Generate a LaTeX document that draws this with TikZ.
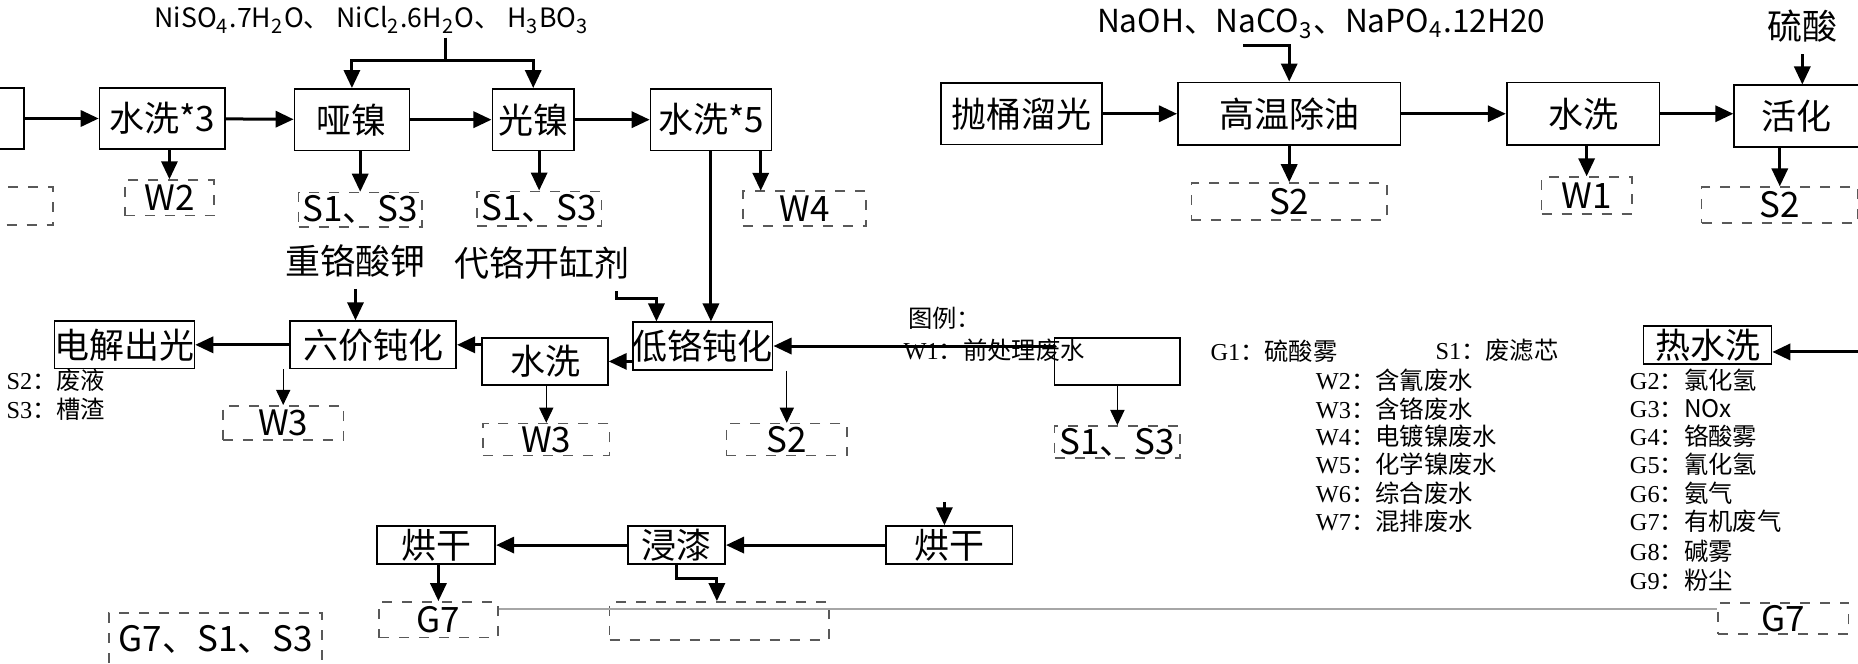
\documentclass[tikz,border=0pt]{standalone}
\usepackage{fontspec}
\setmainfont{Noto Sans CJK SC}
\newfontfamily\lgfont{Liberation Serif}
\usetikzlibrary{positioning, arrows.meta, calc}

\newcommand{\lgi}[2]{{\lgfont #1}：#2}

\begin{document}
\begin{tikzpicture}[
  x=0.0125cm, y=-0.0125cm,
  font=\fontsize{10.5}{12}\selectfont,
  sz/.style 2 args={minimum width=#1*0.0125cm, minimum height=#2*0.0125cm},
  proc/.style={rectangle, draw, line width=0.5pt, inner sep=0pt, align=center},
  outb/.style={rectangle, draw=gray!70!black, dashed, line width=0.5pt, inner sep=0pt},
  arr/.style={-{Triangle[length=1.9mm, width=1.7mm]}, line width=0.9pt},
  thinarr/.style={-{Triangle[length=1.6mm, width=1.5mm]}, line width=0.3pt},
  lg/.style={anchor=west, inner sep=0pt, font=\fontsize{7.3}{9}\selectfont},
  chem/.style={inner sep=1pt, font=\fontsize{9.5}{11}\selectfont}
]
  \useasboundingbox (0,0) rectangle (1568,560);
  \clip (0,0) rectangle (1568,560);

  % nickel line
  \node[chem, font=\fontsize{8}{10}\selectfont] (ni) at (314,17) {NiSO\textsubscript{4}.7H\textsubscript{2}O、 NiCl\textsubscript{2}.6H\textsubscript{2}O、 H\textsubscript{3}BO\textsubscript{3}};
  \node[proc, sz={100}{52}] (pre) at (-30,100) {};
  \node[proc, sz={106}{52}] (sx3) at (137,100) {水洗*3};
  \node[proc, sz={97}{52}] (yan) at (297,101) {哑镍};
  \node[proc, sz={69}{52}] (gn) at (450,101) {光镍};
  \node[proc, sz={102}{52}] (sx5) at (600,101) {水洗*5};
  \draw[arr] (pre) -- (sx3);
  \draw[arr] (sx3) -- (yan);
  \draw[arr] (yan) -- (gn);
  \draw[arr] (gn) -- (sx5);
  \coordinate (nisp) at (376,51);
  \draw[line width=0.9pt] (ni.south -| nisp) -- (nisp);
  \draw[arr] (nisp) -| (yan.north);
  \draw[arr] (nisp) -| (gn.north);

  \node[outb, sz={90}{32}] (outl) at (0,174) {};
  \node[outb, sz={75}{30}] (w2) at (143,167) {W2};
  \node[outb, sz={104}{29}] (s13a) at (304,177) {S1、S3};
  \node[outb, sz={105}{29}] (s13b) at (455,176) {S1、S3};
  \node[outb, sz={104}{30}] (w4) at (679,176) {W4};
  \coordinate (w4top) at (642,161);
  \draw[arr] (sx3.south -| w2.north) -- (w2.north);
  \draw[arr] (yan.south -| s13a.north) -- (s13a.north);
  \draw[arr] (gn.south -| s13b.north) -- (s13b.north);
  \draw[arr] (sx5.south -| w4top) -- (w4top);

  % pre-treatment line
  \node[chem] (na) at (1115,20) {NaOH、NaCO\textsubscript{3}、NaPO\textsubscript{4}.12H20};
  \node[proc, sz={136}{52}] (ptl) at (862,96) {抛桶溜光};
  \node[proc, sz={188}{53}] (gw) at (1088,96) {高温除油};
  \node[proc, sz={129}{53}] (sx) at (1336,96) {水洗};
  \node[proc, sz={105}{52}] (hh) at (1516,98) {活化};
  \node (ls) at (1521,22) {硫酸};
  \draw[arr] (ptl) -- (gw);
  \draw[arr] (gw) -- (sx);
  \draw[arr] (sx) -- (sx -| hh.west);
  \coordinate (nas) at (1049,38);
  \coordinate (nak) at (1088,38);
  \draw[arr] (nas) -- (nak) -- (nak |- gw.north);
  \draw[arr] (ls.south) -- (ls.south |- hh.north);

  \node[outb, sz={165}{31}] (s2a) at (1088,170) {S2};
  \node[outb, sz={76}{31}] (w1) at (1339,165) {W1};
  \node[outb, sz={132}{30}] (s2b) at (1502,173) {S2};
  \draw[arr] (gw.south -| s2a.north) -- (s2a.north);
  \draw[arr] (sx.south -| w1.north) -- (w1.north);
  \draw[arr] (hh.south -| s2b.north) -- (s2b.north);

  % passivation line
  \node (zgs) at (300,220) {重铬酸钾};
  \node (dg) at (457,222) {代铬开缸剂};
  \node[proc, sz={100}{40}] (m1) at (105,291) {电解出光};
  \node[proc, sz={140}{40}] (m2) at (315,291) {六价钝化};
  \node[proc, sz={106}{40}] (p1) at (460,305) {水洗};
  \node[proc, sz={113}{40}] (m4) at (593,292) {低铬钝化};
  \node[proc, sz={106}{40}] (r1) at (943,305) {};
  \node[proc, sz={108}{32}] (rsx) at (1441,291) {热水洗};
  \coordinate (rin) at (1568,297);
  \coordinate (dgk) at (554,252);
  \draw[arr] (zgs.south) -- (zgs.south |- m2.north);
  \draw[arr] ([xshift=0.79cm]dg.south) |- (dgk) -- (dgk |- m4.north);
  \draw[arr] (sx5.south) -- (sx5.south |- m4.north);
  \draw[arr] (m2) -- (m1);
  \draw[arr] (p1.west |- m2) -- (m2);
  \draw[arr] (m4.west |- p1) -- (p1);
  \draw[arr] (r1.west |- m4) -- (m4);
  \draw[arr] (rin) -- (rin -| rsx.east);

  \node[outb, sz={102}{29}] (w3a) at (239,357) {W3};
  \node[outb, sz={107}{27}] (w3b) at (461,371) {W3};
  \node[outb, sz={102}{27}] (s2c) at (664,371) {S2};
  \node[outb, sz={106}{27}] (s13c) at (943,373) {S1、S3};
  \draw[thinarr] (w3a.north |- m2.south) -- (w3a.north);
  \draw[thinarr] (p1.south -| w3b.north) -- (w3b.north);
  \draw[thinarr] (m4.south -| s2c.north) -- (s2c.north);
  \draw[thinarr] (r1.south -| s13c.north) -- (s13c.north);

  % legend
  \node[lg] (tl) at (766,269) {图例：};
  \node[lg] (lw1) at (762,296) {\lgi{W1}{前处理废水}};
  \node[lg] (lg1) at (1021,296) {\lgi{G1}{硫酸雾}};
  \node[lg] (ls1) at (1211,296) {\lgi{S1}{废滤芯}};
  \node[lg] (ls2) at (5,321) {\lgi{S2}{废液}};
  \node[lg] (ls3) at (5,345) {\lgi{S3}{槽渣}};
  \node[lg] (lw2) at (1110,321) {\lgi{W2}{含氰废水}};
  \node[lg] (lw3) at (1110,345) {\lgi{W3}{含铬废水}};
  \node[lg] (lw4) at (1110,368) {\lgi{W4}{电镀镍废水}};
  \node[lg] (lw5) at (1110,392) {\lgi{W5}{化学镍废水}};
  \node[lg] (lw6) at (1110,416) {\lgi{W6}{综合废水}};
  \node[lg] (lw7) at (1110,440) {\lgi{W7}{混排废水}};
  \node[lg] (lg2) at (1375,321) {\lgi{G2}{氯化氢}};
  \node[lg] (lg3) at (1375,345) {\lgi{G3}{NOx}};
  \node[lg] (lg4) at (1375,368) {\lgi{G4}{铬酸雾}};
  \node[lg] (lg5) at (1375,392) {\lgi{G5}{氰化氢}};
  \node[lg] (lg6) at (1375,416) {\lgi{G6}{氨气}};
  \node[lg] (lg7) at (1375,440) {\lgi{G7}{有机废气}};
  \node[lg] (lg8) at (1375,465) {\lgi{G8}{碱雾}};
  \node[lg] (lg9) at (1375,490) {\lgi{G9}{粉尘}};

  % drying line
  \node[proc, sz={107}{32}] (hgr) at (801,460) {烘干};
  \node[proc, sz={82}{32}] (jq) at (571,460) {浸漆};
  \node[proc, sz={100}{32}] (hgl) at (368,460) {烘干};
  \coordinate (hgin) at (797,424);
  \coordinate (jqk) at (605,488);
  \draw[arr] (hgin) -- (hgin |- hgr.north);
  \draw[arr] (hgr) -- (jq);
  \draw[arr] (jq) -- (hgl);
  \node[outb, sz={100}{30}] (g7a) at (370,523) {G7};
  \node[outb, sz={185}{32}] (jqo) at (607,524) {};
  \node[outb, sz={180}{45}] (g7s) at (182,540) {G7、S1、S3};
  \node[outb, sz={110}{26}] (g7b) at (1505,522) {G7};
  \draw[arr] (hgl.south -| g7a.north) -- (g7a.north);
  \draw[arr] (jq.south) |- (jqk) -- (jqk |- jqo.north);
  \draw[gray!70, line width=0.8pt] (g7a.north east |- 0,514) -- (g7b.north west |- 0,514);
\end{tikzpicture}
\end{document}
